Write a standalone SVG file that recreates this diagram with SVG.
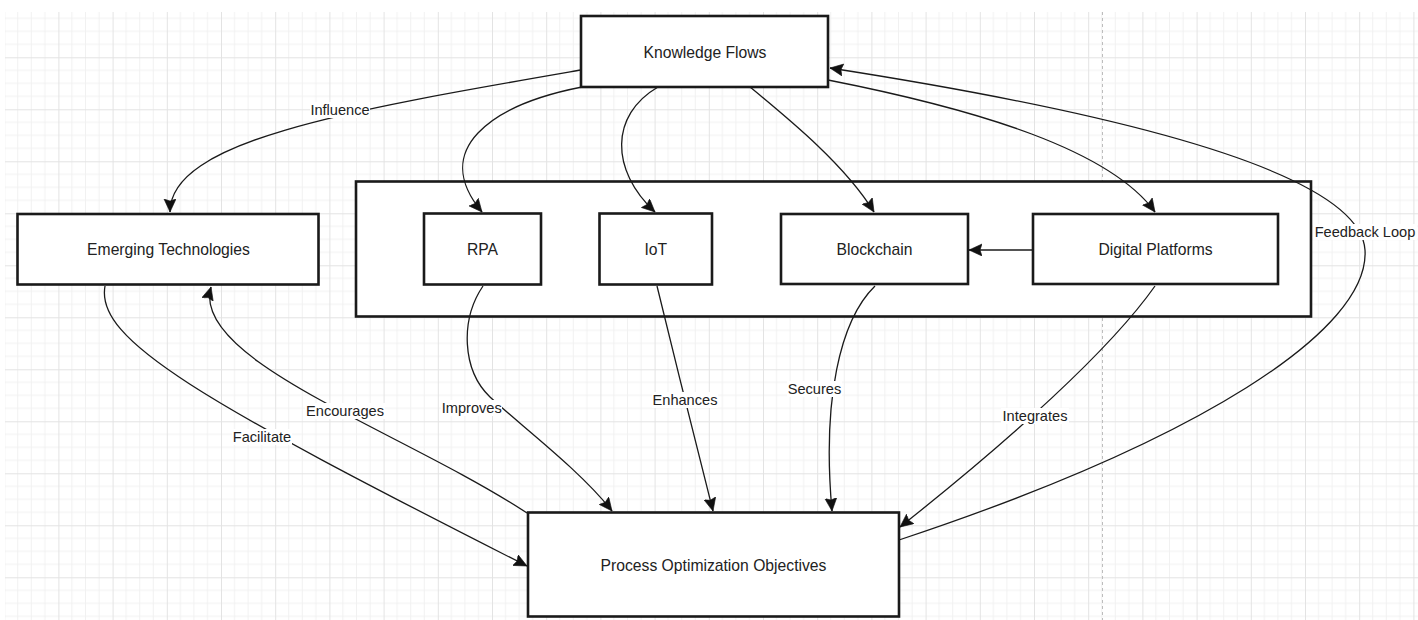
<svg xmlns="http://www.w3.org/2000/svg" width="1418" height="620" viewBox="0 0 1418 620">
<defs>
<pattern id="grid" patternUnits="userSpaceOnUse" x="4.2" y="5.3" width="54.2" height="52">
<path d="M13.55 0V52M27.1 0V52M40.65 0V52M0 13H54.2M0 26H54.2M0 39H54.2" stroke="#f1f1f1" stroke-width="1" fill="none"/>
<path d="M0.5 0V52M0 0.5H54.2" stroke="#e3e3e3" stroke-width="1" fill="none"/>
</pattern>
<marker id="arr" markerUnits="userSpaceOnUse" markerWidth="14" markerHeight="13" refX="13" refY="6" orient="auto" viewBox="0 0 14 13">
<path d="M0,0 L13,6 L0,12 L2,6 Z" fill="#111" stroke="#111" stroke-width="0.6" stroke-linejoin="round"/>
</marker>
<style>
.node{fill:#fff;stroke:#1a1a1a;stroke-width:2.6}
.nt{font-family:"Liberation Sans",Arial,sans-serif;font-size:15.7px;fill:#222;text-anchor:middle}
.edge{fill:none;stroke:#1a1a1a;stroke-width:1.3;marker-end:url(#arr)}
.lb{fill:#fff}
.lt{font-family:"Liberation Sans",Arial,sans-serif;font-size:14.6px;fill:#222;text-anchor:middle}
</style>
</defs>
<rect width="1418" height="620" fill="#fff"/>
<rect x="5" y="12" width="1413" height="608" fill="url(#grid)"/>
<line x1="1102.5" y1="12" x2="1102.5" y2="620" stroke="#bdbdbd" stroke-width="1" stroke-dasharray="3,3"/>

<g id="container"><rect class="node" x="356" y="181.5" width="955" height="135"/></g>

<g id="connectors">
<path class="edge" d="M581 70 C350 110,170 140,170 212"/>
<path class="edge" d="M582 87 C490 105,430 150,482 212"/>
<path class="edge" d="M658 87 C610 115,610 170,655 212"/>
<path class="edge" d="M750 87 C790 120,845 165,874 212"/>
<path class="edge" d="M828 80 C980 110,1110 150,1155 212"/>
<path class="edge" d="M899 540 C1200 440,1370 330,1365 250 C1360 170,1100 110,830 68"/>
<path class="edge" d="M105 286 C95 340,200 400,527 566"/>
<path class="edge" d="M527 513 C400 430,190 360,211 287"/>
<path class="edge" d="M483 286 C460 320,462 370,490 397 C520 425,580 470,612 511"/>
<path class="edge" d="M657 286 C675 360,695 440,713 511"/>
<path class="edge" d="M875 286 C840 320,822 400,832 511"/>
<path class="edge" d="M1155 286 C1110 350,1010 440,900 527"/>
<path class="edge" d="M1033 250 L969 250"/>
<g id="labels">
<rect class="lb" x="310" y="102" width="60" height="16"/><text class="lt" x="340" y="115.2">Influence</text>
<rect class="lb" x="232" y="429" width="60" height="16"/><text class="lt" x="262" y="441.8">Facilitate</text>
<rect class="lb" x="305" y="403" width="80" height="16"/><text class="lt" x="345" y="416.3">Encourages</text>
<rect class="lb" x="441" y="400" width="61" height="16"/><text class="lt" x="471.7" y="413.2">Improves</text>
<rect class="lb" x="652" y="392" width="66" height="16"/><text class="lt" x="685" y="405.2">Enhances</text>
<rect class="lb" x="787" y="381" width="55" height="16"/><text class="lt" x="814.5" y="394.2">Secures</text>
<rect class="lb" x="1001" y="408" width="68" height="16"/><text class="lt" x="1035" y="421.2">Integrates</text>
<rect class="lb" x="1313" y="224" width="104" height="16"/><text class="lt" x="1365" y="237.2">Feedback Loop</text>
</g>
</g>

<g id="knowledge-flows"><rect class="node" x="581" y="16" width="247" height="71"/><text class="nt" x="705" y="57.5">Knowledge Flows</text></g>
<g id="emerging-technologies"><rect class="node" x="17.5" y="214" width="301" height="70.5"/><text class="nt" x="168.5" y="254.5">Emerging Technologies</text></g>
<g id="rpa"><rect class="node" x="424" y="213.5" width="117" height="71"/><text class="nt" x="482.5" y="254.5">RPA</text></g>
<g id="iot"><rect class="node" x="599.5" y="213.5" width="112.5" height="71"/><text class="nt" x="655.8" y="254.5">IoT</text></g>
<g id="blockchain"><rect class="node" x="781" y="214" width="187" height="70"/><text class="nt" x="874.5" y="254.5">Blockchain</text></g>
<g id="digital-platforms"><rect class="node" x="1033" y="214" width="245" height="70"/><text class="nt" x="1155.5" y="254.5">Digital Platforms</text></g>
<g id="process-optimization"><rect class="node" x="528" y="512.5" width="371" height="104"/><text class="nt" x="713.5" y="571">Process Optimization Objectives</text></g>
</svg>
